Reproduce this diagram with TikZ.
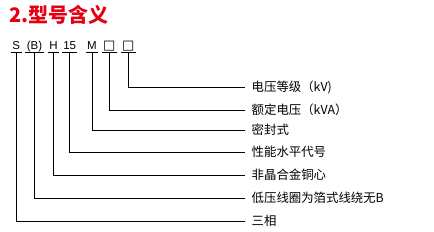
\documentclass[tikz,border=0pt]{standalone}
\usepackage{fontspec}
\setmainfont{Liberation Sans}
\newfontfamily\cjk{Noto Sans CJK SC}
\newfontfamily\symf{DejaVu Sans}
\definecolor{titlered}{RGB}{228,0,18}
\begin{document}
\begin{tikzpicture}[x=1pt,y=-1pt,
  code/.style={anchor=base,inner xsep=1.2pt,inner ysep=2pt,text depth=0pt,font=\fontsize{11.5}{11.5}\selectfont},
  lab/.style={anchor=west,inner xsep=6.5pt,inner ysep=0pt,font=\cjk\fontsize{12.4}{12.4}\selectfont},
  wire/.style={line width=0.9pt,black}]
\useasboundingbox (0,0) rectangle (434,232);
\node[anchor=west,inner sep=0pt,text=titlered,font=\cjk\bfseries\fontsize{20}{20}\selectfont] (title) at (9.5,15) {2.型号含义};
% codes
\node[code] (s) at (16.3,50) {S};
\node[code] (b) at (34.5,50) {(B)};
\node[code] (h) at (53.5,50) {H};
\node[code] (n) at (69.7,50) {15};
\node[code] (m) at (92,50) {M};
\node[code,font=\symf\fontsize{13}{13}\selectfont] (q1) at (109.3,50) {□};
\node[code,font=\symf\fontsize{13}{13}\selectfont] (q2) at (128.3,50) {□};
% labels
\node[lab] (l7) at (245,87) {电压等级（kV)};
\node[lab] (l6) at (245,110) {额定电压（kVA）};
\node[lab] (l5) at (245,130) {密封式};
\node[lab] (l4) at (245,152) {性能水平代号};
\node[lab] (l3) at (245,175) {非晶合金铜心};
\node[lab] (l2) at (245,198) {低压线圈为箔式线绕无B};
\node[lab] (l1) at (245,221) {三相};
% underlines and connectors
\foreach \c/\l in {s/l1,b/l2,h/l3,n/l4,m/l5,q1/l6,q2/l7}{
  \draw[wire] (\c.south west) -- (\c.south east);
  \draw[wire] (\c.south) |- (\l.west);
}
\end{tikzpicture}
\end{document}
